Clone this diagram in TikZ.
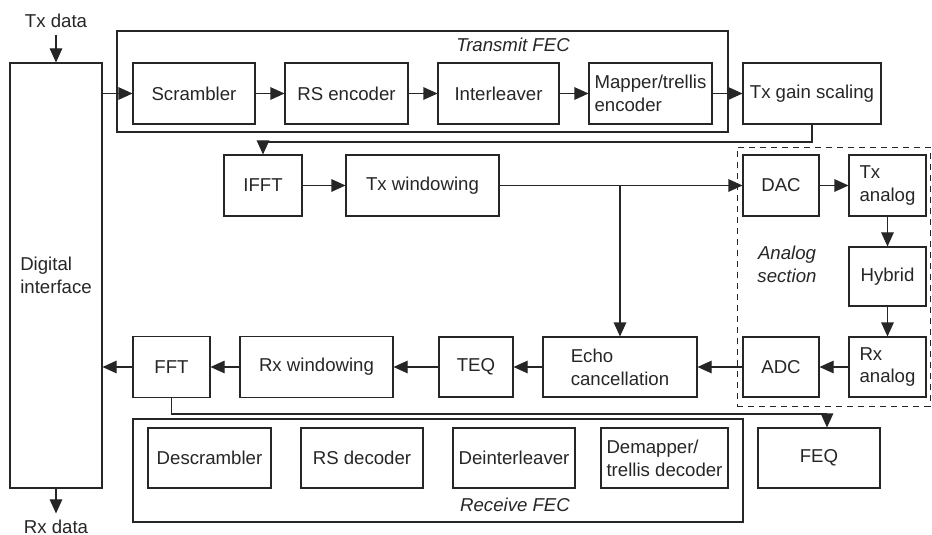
\documentclass[tikz,border=0pt]{standalone}
\usepackage{fontspec}
\setmainfont{Liberation Sans}
\usetikzlibrary{arrows.meta}
\tikzset{
  % box sized in reference pixels: width, height
  blk/.style 2 args={draw, minimum width=#1*0.2mm, minimum height=#2*0.2mm,
    inner sep=0pt, align=left},
  frame/.style 2 args={draw, minimum width=#1*0.2mm, minimum height=#2*0.2mm},
  arr/.style={-{Triangle[length=2.8mm,width=2.5mm]}},
  lbl/.style={font=\itshape, align=center},
}

\begin{document}
\fontsize{10.6}{13}\selectfont
\begin{tikzpicture}[x=0.2mm, y=-0.2mm, line width=0.6pt, draw=black!85, text=black!85]
  \useasboundingbox (0,0) rectangle (932,535);

  % groups
  \node [frame={611}{101}] (txfec) at (422.5,81.5) {};
  \node [lbl] at (513,45) {Transmit FEC};
  \node [frame={610}{103}] (rxfec) at (438,470.5) {};
  \node [lbl] at (515,505) {Receive FEC};
  \node [frame={193}{259}, dashed, line width=0.5pt, dash pattern=on 1.2mm off 1mm] (ana) at (833.5,276.5) {};
  \node [lbl] at (787,264) {Analog\\section};

  \node (txdata) at (56,21) {Tx data};
  \node (rxdata) at (56,527) {Rx data};
  \node [blk={92}{425}] (dig) at (56,275.5) {Digital\\interface};

  \node [blk={122}{61}] (scr) at (194,93.5) {Scrambler};
  \node [blk={123}{61}] (rsenc) at (346.5,93.5) {RS encoder};
  \node [blk={121}{61}] (intl) at (498.5,93.5) {Interleaver};
  \node [blk={123}{61}] (mapper) at (650.5,93.5) {Mapper/trellis\\encoder};
  \node [blk={138}{61}] (gain) at (812,93.5) {Tx gain scaling};

  \node [blk={78}{61}] (ifft) at (263,185.5) {IFFT};
  \node [blk={153}{61}] (txwin) at (422.5,185.5) {Tx windowing};
  \node [blk={76}{61}] (dac) at (781,185.5) {DAC};
  \node [blk={77}{61}] (txan) at (887.5,185.5) {Tx\\analog};
  \node [blk={77}{59}] (hyb) at (887.5,276.5) {Hybrid};

  \node [blk={77}{60}] (rxan) at (887.5,367) {Rx\\analog};
  \node [blk={76}{60}] (adc) at (781,367) {ADC};
  \node [blk={154}{60}] (echo) at (620,367) {Echo\\cancellation};
  \node [blk={74}{60}] (teq) at (476,367) {TEQ};
  \node [blk={153}{61}] (rxwin) at (316.5,367) {Rx windowing};
  \node [blk={77}{61}] (fft) at (171.5,367) {FFT};

  \node [blk={123}{60}] (desc) at (209.5,458) {Descrambler};
  \node [blk={122}{60}] (rsdec) at (362,458) {RS decoder};
  \node [blk={122}{60}] (deint) at (514,458) {Deinterleaver};
  \node [blk={127}{60}] (demap) at (664.5,458) {Demapper/\\trellis decoder};
  \node [blk={122}{60}] (feq) at (819,458) {FEQ};

  \coordinate (txturn) at (263,142);
  \coordinate (rxturn) at (827,414);

  \draw [arr] (txdata) -- (dig);
  \draw [arr] (dig) -- (rxdata);
  \draw [arr] (scr.west -| dig.east) -- (scr.west);
  \foreach \a/\b in {scr/rsenc, rsenc/intl, intl/mapper, mapper/gain,
    ifft/txwin, txwin/dac, dac/txan, txan/hyb, hyb/rxan, rxan/adc,
    adc/echo, echo/teq, teq/rxwin, rxwin/fft}
    \draw [arr] (\a) -- (\b);
  \draw [arr] (fft) -- (fft -| dig.east);
  \draw [arr] (gain.south) |- (txturn) -- (ifft.north);
  \draw [arr] (echo.north |- txwin) -- (echo.north);
  \draw [arr] (fft.south) |- (rxturn) -- (rxturn |- feq.north);

\end{tikzpicture}
\end{document}
